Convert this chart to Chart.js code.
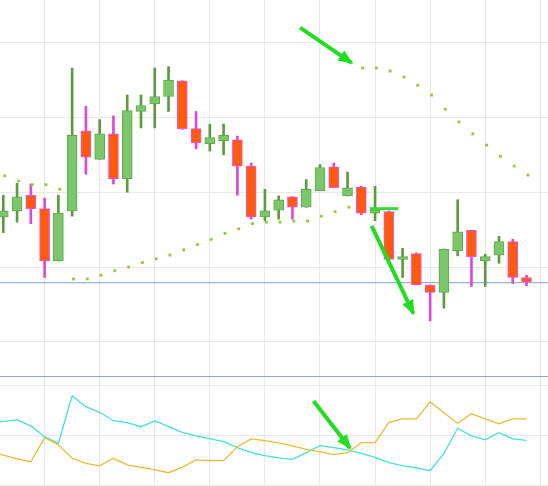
<!DOCTYPE html>
<html>
<head>
<meta charset="utf-8">
<script src="https://cdn.jsdelivr.net/npm/chart.js@4.4.1/dist/chart.umd.min.js"></script>
<style>
  html, body { margin: 0; padding: 0; background: #fff; }
  #top { position: absolute; left: 0; top: 0; width: 548px; height: 376px; }
  #bottom { position: absolute; left: 0; top: 376px; width: 548px; height: 110px;
            border-top: 1px solid #9ba4ba; box-sizing: border-box; }
</style>
</head>
<body>
<div id="top"><canvas id="priceChart"></canvas></div>
<div id="bottom"><canvas id="oscChart"></canvas></div>
<script>
// candles, index 0..38
const open  = [106.7, 107.5, 109.6, 107.8, 100.8, 107.5, 118.2, 114.4, 117.8, 111.8,
               120.8, 121.8, 122.8, 124.9, 118.5, 116.5, 116.9, 117.0, 113.5, 106.7,
               107.6, 109.4, 108.0, 110.2, 113.4, 109.5, 110.7, 107.2, 107.4, 101.0,
               101.8, 97.6, 96.6, 102.2, 104.9, 100.8, 101.6, 103.4, 98.6];
const close = [107.5, 109.4, 107.8, 100.8, 107.2, 117.6, 114.7, 117.8, 111.8, 120.9,
               121.6, 122.8, 125.0, 118.5, 116.6, 117.3, 117.6, 113.5, 106.7, 107.5,
               109.0, 108.0, 110.4, 113.3, 110.6, 110.6, 107.2, 107.6, 101.0, 101.4,
               97.6, 96.6, 102.4, 104.7, 101.4, 101.4, 103.4, 98.6, 98.0];
const high  = [109.6, 111.2, 111.1, 109.2, 109.6, 126.6, 121.5, 119.7, 120.2, 123.0,
               123.0, 126.6, 126.8, 124.9, 120.8, 119.1, 119.1, 117.5, 113.9, 110.4,
               109.5, 109.4, 111.7, 113.7, 113.9, 112.7, 110.8, 110.8, 107.5, 102.5,
               101.9, 97.6, 102.4, 109.0, 104.9, 101.7, 104.1, 103.7, 98.9];
const low   = [104.6, 106.0, 105.8, 98.6, 100.8, 106.8, 112.4, 114.4, 111.1, 110.0,
               118.6, 118.6, 120.8, 118.4, 115.8, 115.5, 115.0, 109.6, 106.4, 106.2,
               106.4, 106.4, 108.0, 110.2, 110.6, 109.5, 107.0, 106.2, 101.0, 98.6,
               97.6, 92.8, 94.5, 101.5, 97.4, 97.4, 100.5, 97.8, 97.5];

// parabolic SAR dots, one per candle
const sar = [112.2, 111.5, 111.0, 111.0, 110.4, 98.4, 98.4, 98.9, 99.5, 100.0,
             100.6, 101.1, 101.6, 102.3, 103.0, 103.7, 104.5, 105.1, 105.8, 106.0,
             106.0, 106.15, 106.15, 106.8, 107.4, 108.0, 126.6, 126.6, 126.2, 125.4,
             124.3, 123.0, 121.1, 119.4, 117.8, 116.3, 114.8, 113.5, 112.3];

const priceLine = 97.9;
const priceGrid = [90, 100, 110, 120, 130];
const xGrid = [3, 7, 11, 15, 19, 23, 27, 31, 35, 39];

// oscillator lines, index -1..38
const oscCyan   = [56.4, 57.2, 57.9, 54.9, 49.5, 46.2, 69.9, 64.5, 61.7, 57.5,
                   56.5, 54.5, 57.4, 54.5, 51.7, 49.9, 48.5, 47.0, 44.0, 41.5,
                   40.0, 38.9, 38.2, 41.5, 45.0, 44.0, 42.9, 41.2, 39.2, 36.5,
                   35.0, 33.9, 32.5, 41.2, 53.7, 49.9, 47.9, 51.5, 48.4, 47.7];
const oscOrange = [42.2, 40.3, 38.4, 37.0, 49.0, 45.4, 38.7, 36.2, 34.9, 38.7,
                   35.4, 34.2, 32.9, 31.5, 34.2, 37.9, 37.5, 37.5, 44.5, 48.4,
                   47.5, 46.4, 44.9, 43.2, 41.9, 40.5, 41.5, 46.5, 46.5, 56.7,
                   58.4, 58.4, 66.9, 61.5, 56.2, 61.0, 58.4, 55.9, 58.4, 58.4];
const oscGrid = [25, 50, 75];

// drawn annotations [x index, value]
const arrowTop   = [[21.55, 132.0], [25.3, 127.3]];
const arrowDown  = [[26.75, 105.5], [29.78, 93.8]];
const flatMark   = [[26.63, 107.8], [28.69, 107.8]];
const arrowOsc   = [[22.53, 67.4], [25.18, 43.9]];

const GREEN = '#7cc76b', GREEN_EDGE = '#5fa84c', GREEN_WICK = '#5b9c3f';
const RED = '#ff5b0d', RED_EDGE = '#f04ef0', RED_WICK = '#d94ad9';
const ARROW = '#22dd22';
const GRID = '#e8e8ee';

const xMin = -0.24, xMax = 39.56;
const isUp = open.map((o, i) => close[i] >= o);
const pts = a => a.map(p => ({x: p[0], y: p[1]}));

const arrowHeads = {
  id: 'arrowHeads',
  afterDatasetsDraw(chart) {
    const ctx = chart.ctx;
    chart.data.datasets.forEach((ds, i) => {
      if (!ds.arrow) return;
      const el = chart.getDatasetMeta(i).data;
      const a = el[el.length - 2], b = el[el.length - 1];
      const ang = Math.atan2(b.y - a.y, b.x - a.x);
      ctx.save();
      ctx.translate(b.x, b.y);
      ctx.rotate(ang);
      ctx.fillStyle = ds.borderColor;
      ctx.beginPath();
      ctx.moveTo(2, 0);
      ctx.lineTo(-13, -6);
      ctx.lineTo(-13, 6);
      ctx.closePath();
      ctx.fill();
      ctx.restore();
    });
  }
};

function xScale() {
  return {
    type: 'linear', min: xMin, max: xMax, offset: false,
    ticks: { display: false },
    grid: { color: GRID, drawTicks: false, offset: false },
    border: { display: false },
    afterBuildTicks: s => { s.ticks = xGrid.map(v => ({value: v})); }
  };
}

function yScale(min, max, grid) {
  return {
    min: min, max: max,
    ticks: { display: false },
    grid: { color: GRID, drawTicks: false },
    border: { display: false },
    afterBuildTicks: s => { s.ticks = grid.map(v => ({value: v})); },
    afterFit: s => { s.width = 0; }
  };
}

function arrowSet(points) {
  return {
    type: 'line', data: pts(points), arrow: true,
    borderColor: ARROW, borderWidth: 4, pointRadius: 0, borderCapStyle: 'butt'
  };
}

const baseOptions = (y) => ({
  responsive: true, maintainAspectRatio: false, animation: false,
  layout: { padding: 0, autoPadding: false },
  plugins: { legend: { display: false }, tooltip: { enabled: false } },
  scales: { x: xScale(), y: y }
});

new Chart(document.getElementById('priceChart'), {
  data: {
    datasets: [
      arrowSet(arrowTop),
      arrowSet(arrowDown),
      {
        type: 'line', data: pts(flatMark),
        borderColor: '#33dd33', borderWidth: 3, pointRadius: 0
      },
      {
        type: 'line', data: sar.map((v, i) => ({x: i + 0.1, y: v})),
        showLine: false, pointStyle: 'rect', pointRadius: 2,
        pointBackgroundColor: '#94c93a', pointBorderWidth: 0
      },
      {
        type: 'bar', grouped: false,
        data: open.map((o, i) => ({x: i, y: [o, close[i]]})),
        backgroundColor: isUp.map(u => u ? GREEN : RED),
        borderColor: isUp.map(u => u ? GREEN_EDGE : RED_EDGE),
        borderWidth: 1, borderSkipped: false, barThickness: 10, minBarLength: 2
      },
      {
        type: 'bar', grouped: false,
        data: low.map((l, i) => ({x: i, y: [l, high[i]]})),
        backgroundColor: isUp.map(u => u ? GREEN_WICK : RED_WICK),
        borderWidth: 0, barThickness: 2
      },
      {
        type: 'line', data: [{x: -1, y: priceLine}, {x: 40, y: priceLine}],
        borderColor: '#819fd3', borderWidth: 1, pointRadius: 0
      }
    ]
  },
  options: baseOptions(yScale(85.43, 135.7, priceGrid)),
  plugins: [arrowHeads]
});

new Chart(document.getElementById('oscChart'), {
  data: {
    datasets: [
      arrowSet(arrowOsc),
      {
        type: 'line', data: oscOrange.map((v, i) => ({x: i - 1, y: v})),
        borderColor: '#eabb3a', borderWidth: 1.3, pointRadius: 0, tension: 0
      },
      {
        type: 'line', data: oscCyan.map((v, i) => ({x: i - 1, y: v})),
        borderColor: '#45e3cf', borderWidth: 1.3, pointRadius: 0, tension: 0
      }
    ]
  },
  options: baseOptions(yScale(24.85, 79.35, oscGrid)),
  plugins: [arrowHeads]
});
</script>
</body>
</html>
